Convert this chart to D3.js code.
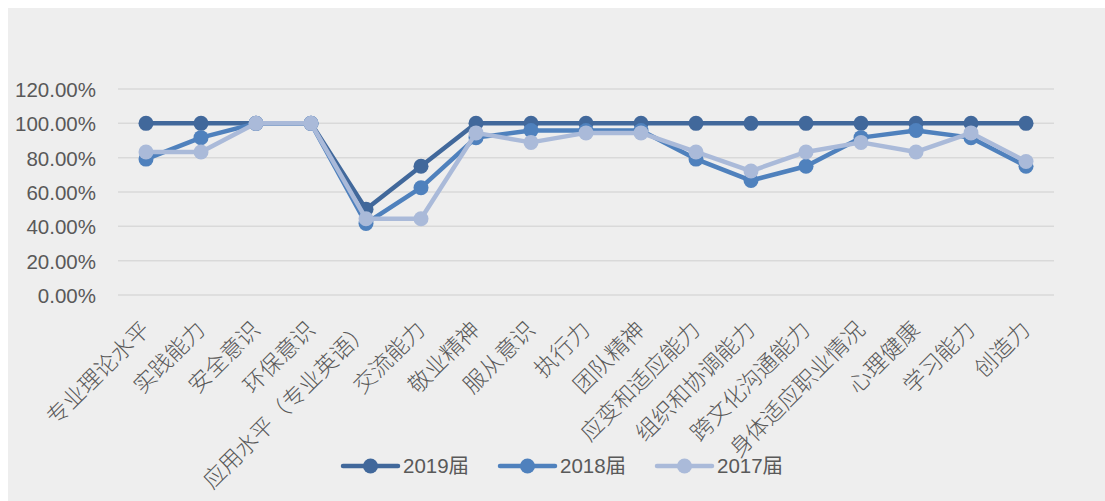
<!DOCTYPE html>
<html><head><meta charset="utf-8">
<script src="https://cdn.jsdelivr.net/npm/d3@7"></script>
<style>
html,body{margin:0;padding:0;background:#fff;}
svg{display:block;}
</style>
</head><body>
<svg id="chart" width="1105" height="501"></svg>
<script>
const categories = ["专业理论水平","实践能力","安全意识","环保意识","应用水平（专业英语）","交流能力","敬业精神","服从意识","执行力","团队精神","应变和适应能力","组织和协调能力","跨文化沟通能力","身体适应职业情况","心理健康","学习能力","创造力"];
const seriesNames = ["2019届","2018届","2017届"];
const values2019 = [100,100,100,100,50,75,100,100,100,100,100,100,100,100,100,100,100];
const values2018 = [79.17,91.67,100,100,41.67,62.5,91.67,95.83,95.83,95.83,79.17,66.67,75,91.67,95.83,91.67,75];
const values2017 = [83.33,83.33,100,100,44.44,44.44,94.44,88.89,94.44,94.44,83.33,72.22,83.33,88.89,83.33,94.44,77.78];
const yTicks = [0,20,40,60,80,100,120];
const colors = ["#41689b","#4f81bd","#aabad9"];

const svg = d3.select("#chart");
svg.append("rect").attr("x",8).attr("y",8).attr("width",1097).attr("height",493).attr("fill","#eeeeee");

const x = d3.scalePoint().domain(categories).range([146,1026]);
const y = d3.scaleLinear().domain([0,120]).range([295,89]);

// gridlines
svg.append("g").selectAll("line").data(yTicks).join("line")
  .attr("x1",118).attr("x2",1054)
  .attr("y1",d=>y(d)).attr("y2",d=>y(d))
  .attr("stroke","#d9d9d9").attr("stroke-width",1.5);

// y axis labels
const yAxis = d3.axisLeft(y).tickValues(yTicks).tickSize(0).tickPadding(0)
  .tickFormat(d=>d.toFixed(2)+"%");
const gy = svg.append("g").attr("transform","translate(96,0)").call(yAxis);
gy.select(".domain").remove();
gy.selectAll("text").attr("font-family","'Liberation Sans',Arial,sans-serif")
  .attr("font-size","20.5px").attr("fill","#595959").attr("dy","0.36em");

// x labels
const xAxis = d3.axisBottom(x).tickSize(0).tickPadding(0);
const gx = svg.append("g").attr("transform","translate(0,295)").call(xAxis);
gx.select(".domain").remove();
gx.selectAll("text")
  .attr("font-family","'Noto Sans CJK SC',sans-serif")
  .attr("font-size","22.5px").attr("font-weight","300").attr("fill","#595959")
  .attr("text-anchor","end").attr("dy",null).attr("y",0)
  .attr("transform","translate(5,36) rotate(-45)");

// series
const allSeries = [values2019, values2018, values2017];
const line = d3.line().x((d,i)=>x(categories[i])).y(d=>y(d));
allSeries.forEach((vals,si)=>{
  const g = svg.append("g");
  g.append("path").datum(vals).attr("d",line).attr("fill","none")
    .attr("stroke",colors[si]).attr("stroke-width",4.5).attr("stroke-linejoin","round");
  g.selectAll("circle").data(vals).join("circle")
    .attr("cx",(d,i)=>x(categories[i])).attr("cy",d=>y(d)).attr("r",7.5)
    .attr("fill",colors[si]);
});

// legend
const legendX = [343,500,657];
const lg = svg.append("g");
seriesNames.forEach((name,i)=>{
  const gg = lg.append("g").attr("transform",`translate(${legendX[i]},466)`);
  gg.append("line").attr("x1",0).attr("x2",55).attr("y1",0).attr("y2",0)
    .attr("stroke",colors[i]).attr("stroke-width",4.5).attr("stroke-linecap","round");
  gg.append("circle").attr("cx",27.5).attr("cy",0).attr("r",7.5).attr("fill",colors[i]);
  gg.append("text").attr("x",60).attr("y",0).attr("dy","0.36em")
    .attr("font-family","'Liberation Sans','Noto Sans CJK SC',sans-serif")
    .attr("font-size","20.5px").attr("fill","#595959").text(name);
});
</script>
</body></html>
